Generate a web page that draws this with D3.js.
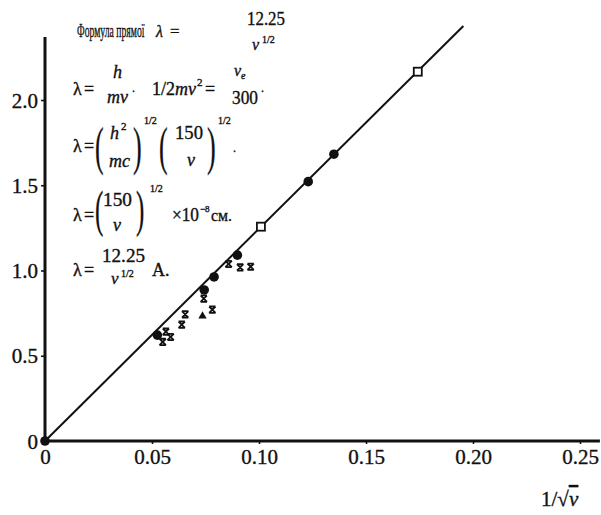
<!DOCTYPE html>
<html>
<head>
<meta charset="utf-8">
<script src="https://cdnjs.cloudflare.com/ajax/libs/d3/7.8.5/d3.min.js"></script>
<style>
  body { margin: 0; background: #fff; }
  svg text { font-family: "Liberation Serif", "DejaVu Serif", serif; fill: #111; stroke: #111; stroke-width: 0.35px; }
</style>
</head>
<body>
<svg id="chart"></svg>
<script>
// data: x = 1/sqrt(V), y = lambda (A)
var circleX = [0, 0.0525, 0.0744, 0.0790, 0.0899, 0.1230, 0.1350];
var circleY = [0, 0.621, 0.886, 0.962, 1.090, 1.521, 1.682];
var squareX = [0.1009, 0.1742];
var squareY = [1.257, 2.166];
var crossX = [0.0550, 0.0565, 0.0587, 0.0639, 0.0655, 0.0742, 0.0782, 0.0858, 0.0912, 0.0961];
var crossY = [0.581, 0.641, 0.610, 0.682, 0.743, 0.835, 0.770, 1.038, 1.018, 1.022];
var triX = [0.0736];
var triY = [0.733];
var lineX = [0, 0.1955];
var lineY = [0, 2.434];
var xTicks = [0, 0.05, 0.10, 0.15, 0.20, 0.25];
var xTickLabels = ["0", "0.05", "0.10", "0.15", "0.20", "0.25"];
var yTicks = [0, 0.5, 1.0, 1.5, 2.0];
var yTickLabels = ["0", "0.5", "1.0", "1.5", "2.0"];

var w = 601, h = 515;
var svg = d3.select("#chart").attr("width", w).attr("height", h);
svg.append("rect").attr("width", w).attr("height", h).attr("fill", "#fff");

var x = d3.scaleLinear().domain([0, 0.25]).range([45, 580]);
var y = d3.scaleLinear().domain([0, 2]).range([441, 100]);

// axes
var xAxis = svg.append("g").attr("transform", "translate(0," + y(0) + ")")
    .call(d3.axisBottom(x).tickValues(xTicks).tickSize(3).tickPadding(5)
        .tickFormat(function(d, i) { return xTickLabels[i] }));
var yAxis = svg.append("g").attr("transform", "translate(" + x(0) + ",0)")
    .call(d3.axisLeft(y).tickValues(yTicks).tickSize(4).tickPadding(3)
        .tickFormat(function(d, i) { return yTickLabels[i] }));
[xAxis, yAxis].forEach(function(g) {
    g.attr("font-family", null);
    g.select(".domain").remove();
    g.selectAll(".tick line").attr("stroke", "#111").attr("stroke-width", 1.6);
    g.selectAll(".tick text").attr("font-size", 21).attr("fill", "#111");
});
yAxis.selectAll(".tick text").attr("dy", "0.34em");

svg.append("line").attr("x1", x(0)).attr("x2", x(0.2593)).attr("y1", y(0)).attr("y2", y(0))
    .attr("stroke", "#111").attr("stroke-width", 3);
svg.append("line").attr("x1", x(0)).attr("x2", x(0)).attr("y1", y(0) + 1).attr("y2", y(2.37))
    .attr("stroke", "#111").attr("stroke-width", 3);

// fitted straight line
var line = d3.line().x(function(d) { return x(d[0]) }).y(function(d) { return y(d[1]) });
svg.append("path").datum(d3.zip(lineX, lineY)).attr("d", line)
    .attr("fill", "none").attr("stroke", "#111").attr("stroke-width", 2);

// markers
svg.selectAll(".dot").data(d3.zip(circleX, circleY)).enter().append("circle")
    .attr("class", "dot")
    .attr("cx", function(d) { return x(d[0]) })
    .attr("cy", function(d) { return y(d[1]) })
    .attr("r", 4.8).attr("fill", "#111");

svg.selectAll(".sq").data(d3.zip(squareX, squareY)).enter().append("rect")
    .attr("class", "sq")
    .attr("x", function(d) { return x(d[0]) - 4 })
    .attr("y", function(d) { return y(d[1]) - 4 })
    .attr("width", 8).attr("height", 8)
    .attr("fill", "#fff").attr("stroke", "#111").attr("stroke-width", 1.8);

// hourglass-like crosses
var s = 3.2;
var crossPath = "M" + (-s) + "," + (-s) + "L" + s + "," + s + "M" + s + "," + (-s) + "L" + (-s) + "," + s +
    "M" + (-s) + "," + (-s) + "H" + s + "M" + (-s) + "," + s + "H" + s;
svg.selectAll(".cr").data(d3.zip(crossX, crossY)).enter().append("path")
    .attr("class", "cr")
    .attr("transform", function(d) { return "translate(" + x(d[0]) + "," + y(d[1]) + ")" })
    .attr("d", crossPath)
    .attr("fill", "none").attr("stroke", "#111").attr("stroke-width", 1.8);

svg.selectAll(".tri").data(d3.zip(triX, triY)).enter().append("path")
    .attr("class", "tri")
    .attr("transform", function(d) { return "translate(" + x(d[0]) + "," + y(d[1]) + ")" })
    .attr("d", d3.symbol().type(d3.symbolTriangle).size(30))
    .attr("fill", "#111");

// axis title
var xt = svg.append("text").attr("x", 541).attr("y", 506).attr("font-size", 21);
xt.append("tspan").text("1/");
xt.append("tspan").text("√");
xt.append("tspan").attr("font-style", "italic").style("text-decoration", "overline").text("v");

// formulas
function t(px, py, str, size, opts) {
    opts = opts || {};
    var el = svg.append("text").attr("x", px).attr("y", py).attr("font-size", size).text(str);
    if (opts.it) el.attr("font-style", "italic");
    if (opts.len) el.attr("textLength", opts.len).attr("lengthAdjust", "spacingAndGlyphs");
    return el;
}
function paren(px, py, str, hgt) {
    svg.append("text").attr("transform", "translate(" + px + "," + py + ") scale(0.5,1)")
        .attr("font-size", hgt).text(str);
}

// line 1
svg.append("text").attr("transform", "translate(77,37) scale(0.51,1)")
    .attr("font-size", 19).text("Формула прямої");
t(156, 37, "λ", 16, {it: true});
t(170, 37, "=", 17);
t(247, 25, "12.25", 18, {len: 38});
t(252, 50, "ν", 16, {it: true});
t(262, 43, "1/2", 10);

// line 2
t(73, 95, "λ", 18);
t(84, 95, "=", 18);
t(113, 78, "h", 18, {it: true});
t(107, 103, "mv", 18, {it: true});
t(132, 92, ".", 12);
t(152, 95, "1/2", 18);
t(175, 95, "mv", 18, {it: true});
t(197, 86, "2", 11);
t(205, 95, "=", 18);
t(234, 76, "v", 16, {it: true});
t(241, 79, "e", 10, {it: true});
t(232, 104, "300", 18, {len: 26});
t(261, 92, ".", 12);

// line 3
t(73, 152, "λ", 18);
t(84, 152, "=", 18);
paren(95, 164, "(", 52);
t(110, 139, "h", 18, {it: true});
t(121, 130, "2", 11);
t(109, 167, "mc", 18, {it: true});
paren(133, 164, ")", 52);
t(144, 124, "1/2", 10);
paren(159, 164, "(", 52);
t(175, 139, "150", 19, {len: 28});
t(187, 166, "v", 18, {it: true});
paren(207, 164, ")", 52);
t(218, 124, "1/2", 10);
t(233, 152, ".", 12);

// line 4
t(73, 221, "λ", 18);
t(84, 221, "=", 18);
paren(95, 226, "(", 50);
t(103, 206, "150", 19, {len: 29});
t(113, 231, "v", 18, {it: true});
paren(136, 226, ")", 50);
t(150, 192, "1/2", 10);
t(172, 221, "×10", 18, {len: 27});
t(200, 212, "−8", 9);
t(211, 221, "см.", 17, {len: 21});

// line 5
t(73, 276, "λ", 18);
t(84, 276, "=", 18);
t(102, 262, "12.25", 19, {len: 43});
t(111, 284, "ν", 17, {it: true});
t(121, 277, "1/2", 10);
t(152, 276, "A.", 18);
</script>
</body>
</html>
